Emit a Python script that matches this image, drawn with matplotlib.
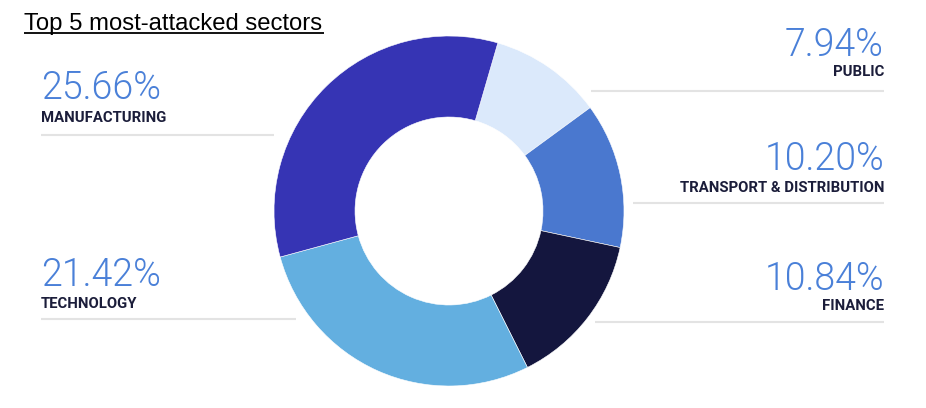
import matplotlib
matplotlib.use("Agg")
import matplotlib.pyplot as plt

sectors = ["PUBLIC", "TRANSPORT & DISTRIBUTION", "FINANCE", "TECHNOLOGY", "MANUFACTURING"]
values = [7.94, 10.20, 10.84, 21.42, 25.66]
labels_pct = ["7.94%", "10.20%", "10.84%", "21.42%", "25.66%"]
colors = ["#dbe9fb", "#4a78cf", "#14163e", "#63afe0", "#3634b4"]

W, H = 926, 408
fig = plt.figure(figsize=(W / 100, H / 100), dpi=100)
ax = fig.add_axes([0, 0, 1, 1])

cx, cy, R = 449, 211, 175
ax.pie(values, colors=colors, startangle=73.8, counterclock=False,
       center=(cx, H - cy), radius=R,
       wedgeprops=dict(width=R - 94, edgecolor="white", linewidth=0.4))
ax.set_xlim(0, W)
ax.set_ylim(0, H)
ax.set_aspect("equal")
ax.axis("off")

def Y(y):
    return H - y

# title
ax.text(24, Y(30), "Top 5 most-attacked sectors", fontsize=17.2, family="Liberation Sans",
        color="black", ha="left", va="baseline")
ax.plot([24, 324], [Y(32.5), Y(32.5)], color="black", lw=1.3, solid_capstyle="butt")

pct_color = "#4a80d8"
lab_color = "#1b1d3a"
pct_font = dict(fontsize=27, family="Roboto", fontweight=300, color=pct_color, va="baseline")
lab_font = dict(fontsize=10.7, family="Roboto", fontweight="bold", color=lab_color, va="baseline")
line_color = "#e3e3e3"

# layout: (index, x, ha, pct baseline, label baseline, line y, line x0, line x1)
layout = [
    (4, 41, "left", 99, 122.5, 135, 41, 274),
    (3, 41, "left", 285.5, 307.5, 319, 41, 296),
    (0, 884, "right", 56, 76.5, 90.5, 591, 884),
    (1, 884, "right", 170, 191.5, 202.5, 633, 884),
    (2, 884, "right", 290, 310.5, 322, 595, 884),
]
for i, x, ha, yp, yl, yline, x0, x1 in layout:
    ax.text(x, Y(yp), labels_pct[i], ha=ha, **pct_font)
    ax.text(x, Y(yl), sectors[i], ha=ha, **lab_font)
    ax.plot([x0, x1], [Y(yline), Y(yline)], color=line_color, lw=1.5, solid_capstyle="butt")

fig.savefig("out.png", dpi=100)
